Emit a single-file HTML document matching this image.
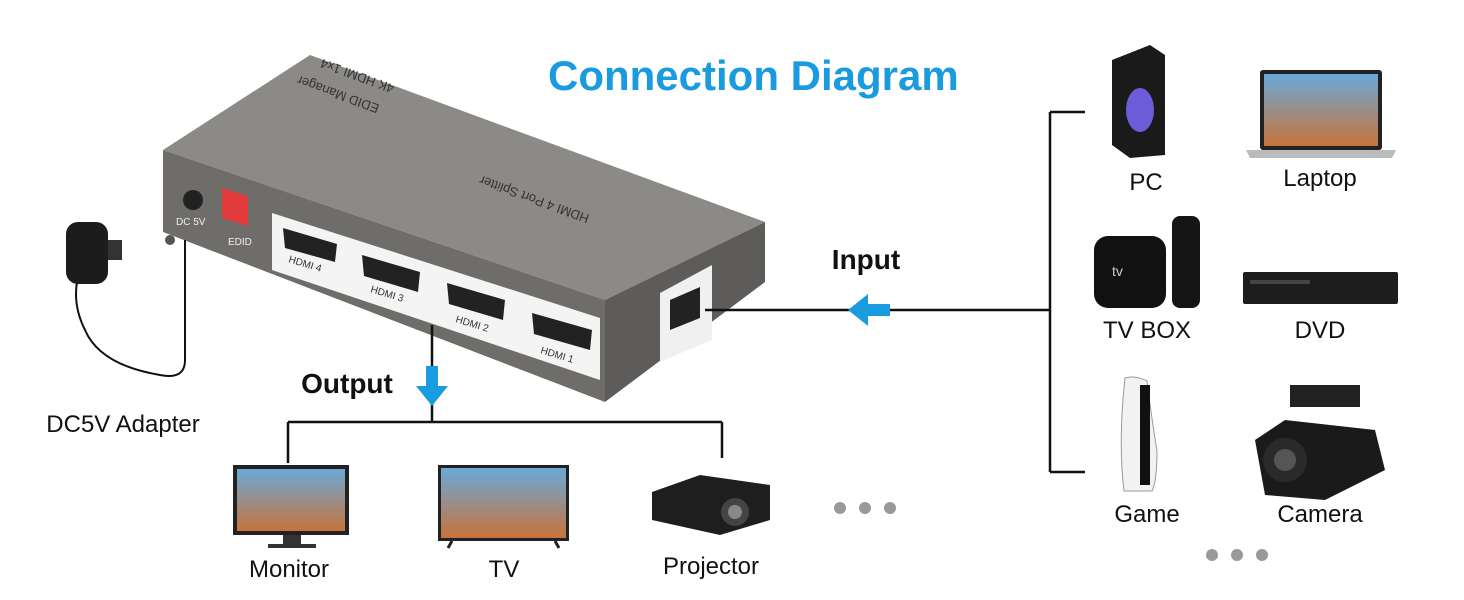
<!DOCTYPE html>
<html><head><meta charset="utf-8"><style>
body{margin:0;width:1464px;height:600px;background:#fff;overflow:hidden;font-family:"Liberation Sans",sans-serif;}
.t{position:absolute;font-size:24px;color:#111;transform:translateX(-50%);white-space:nowrap}
</style></head><body>
<svg width="1464" height="600" style="position:absolute;left:0;top:0">
<defs>
<linearGradient id="sky" x1="0" y1="0" x2="0" y2="1"><stop offset="0" stop-color="#6aa9d8"/><stop offset="1" stop-color="#c7733a"/></linearGradient>
</defs>
<polygon points="163,150 310,55 765,222 605,300" fill="#8c8a87"/>
<polygon points="163,150 605,300 605,402 163,232" fill="#6f6d6a"/>
<polygon points="605,300 765,222 765,282 605,402" fill="#5e5c5a"/>
<polygon points="272,213 600,318 600,380 272,270" fill="#f4f4f4"/>
<polygon points="660,293 712,265 712,340 660,362" fill="#f0f0f0"/>
<polygon points="222,188 248,196 248,226 222,218" fill="#e03a3a"/>
<circle cx="193" cy="200" r="10" fill="#222"/>
<g fill="#222">
<polygon points="283,228 337,244 335,262 285,248"/>
<polygon points="362,255 420,272 418,292 364,276"/>
<polygon points="447,283 505,300 503,320 449,304"/>
<polygon points="532,313 592,330 590,350 534,334"/>
<polygon points="670,300 700,287 700,318 670,330"/>
</g>
<g font-size="10" fill="#333" font-family="Liberation Sans">
<text x="288" y="262" transform="rotate(17 288 262)">HDMI 4</text>
<text x="370" y="292" transform="rotate(17 370 292)">HDMI 3</text>
<text x="455" y="322" transform="rotate(17 455 322)">HDMI 2</text>
<text x="540" y="353" transform="rotate(17 540 353)">HDMI 1</text>
<text x="176" y="225" fill="#eee">DC 5V</text>
<text x="228" y="245" fill="#eee">EDID</text>
</g>
<g font-size="13" fill="#333"><text x="590" y="215" transform="rotate(200 590 215)">HDMI 4 Port Splitter</text>
<text x="395" y="85" transform="rotate(200 395 85)">4K HDMI 1x4</text>
<text x="380" y="105" transform="rotate(200 380 105)">EDID Manager</text></g>
<g stroke="#111" stroke-width="2.5" fill="none">
<path d="M705 310 H1050 M1050 112 V472 M1050 112 H1085 M1050 472 H1085"/>
<path d="M432 325 V422 M288 422 H722 M288 422 V463 M722 422 V458"/>
<path d="M185 240 V360 Q185 380 160 375 Q100 365 85 330 Q70 300 80 270" stroke-width="2"/>
</g>
<polygon points="848,310 868,294 868,304 890,304 890,316 868,316 868,326" fill="#1a9be0"/>
<polygon points="432,406 416,386 426,386 426,366 438,366 438,386 448,386" fill="#1a9be0"/>
<rect x="66" y="222" width="42" height="62" rx="12" fill="#1c1c1c"/>
<rect x="108" y="240" width="14" height="20" fill="#333"/>
<circle cx="170" cy="240" r="5" fill="#555"/>
<rect x="233" y="465" width="116" height="70" fill="#222"/><rect x="237" y="469" width="108" height="62" fill="url(#sky)"/>
<rect x="283" y="535" width="18" height="10" fill="#333"/><rect x="268" y="544" width="48" height="4" fill="#333"/>
<rect x="438" y="465" width="131" height="76" fill="#222"/><rect x="441" y="468" width="125" height="70" fill="url(#sky)"/>
<path d="M452 541 l-4 7 M555 541 l4 7" stroke="#222" stroke-width="3"/>
<polygon points="652,492 700,475 770,485 770,520 720,535 652,520" fill="#1e1e1e"/>
<circle cx="735" cy="512" r="14" fill="#444"/><circle cx="735" cy="512" r="7" fill="#888"/>
<g fill="#999"><circle cx="840" cy="508" r="6"/><circle cx="865" cy="508" r="6"/><circle cx="890" cy="508" r="6"/>
<circle cx="1212" cy="555" r="6"/><circle cx="1237" cy="555" r="6"/><circle cx="1262" cy="555" r="6"/></g>
<polygon points="1112,60 1150,45 1165,55 1165,155 1130,158 1112,145" fill="#1a1a1a"/>
<ellipse cx="1140" cy="110" rx="14" ry="22" fill="#6d5cd8"/>
<rect x="1260" y="70" width="122" height="80" rx="3" fill="#222"/><rect x="1264" y="74" width="114" height="72" fill="url(#sky)"/>
<polygon points="1246,150 1396,150 1392,158 1250,158" fill="#bbb"/>
<rect x="1094" y="236" width="72" height="72" rx="14" fill="#111"/>
<text x="1112" y="276" font-size="14" fill="#ccc"> tv</text>
<rect x="1172" y="216" width="28" height="92" rx="8" fill="#151515"/>
<rect x="1243" y="272" width="155" height="32" rx="2" fill="#1d1d1d"/><rect x="1250" y="280" width="60" height="4" fill="#444"/>
<path d="M1125 378 q10 -3 22 3 q5 40 10 70 q0 30 -5 40 h-28 q-6 -50 1 -113z" fill="#f2f2f2" stroke="#999"/>
<rect x="1140" y="385" width="10" height="100" fill="#111"/>
<path d="M1255 440 l30 -20 l90 10 l10 40 l-60 30 l-60 -5z" fill="#1a1a1a"/>
<circle cx="1285" cy="460" r="22" fill="#2a2a2a"/><circle cx="1285" cy="460" r="11" fill="#555"/>
<rect x="1290" y="385" width="70" height="22" fill="#222"/>
</svg>
<div style="position:absolute;left:548px;top:52px;font-size:42px;font-weight:bold;color:#1a9be0;white-space:nowrap">Connection Diagram</div>
<div class="t" style="left:866px;top:244px;font-size:28px;font-weight:bold">Input</div>
<div class="t" style="left:347px;top:368px;font-size:28px;font-weight:bold">Output</div>
<div class="t" style="left:123px;top:411px">DC5V Adapter</div>
<div class="t" style="left:289px;top:556px">Monitor</div>
<div class="t" style="left:504px;top:556px">TV</div>
<div class="t" style="left:711px;top:553px">Projector</div>
<div class="t" style="left:1146px;top:169px">PC</div>
<div class="t" style="left:1320px;top:165px">Laptop</div>
<div class="t" style="left:1147px;top:317px">TV BOX</div>
<div class="t" style="left:1320px;top:317px">DVD</div>
<div class="t" style="left:1147px;top:501px">Game</div>
<div class="t" style="left:1320px;top:501px">Camera</div>
</body></html>
